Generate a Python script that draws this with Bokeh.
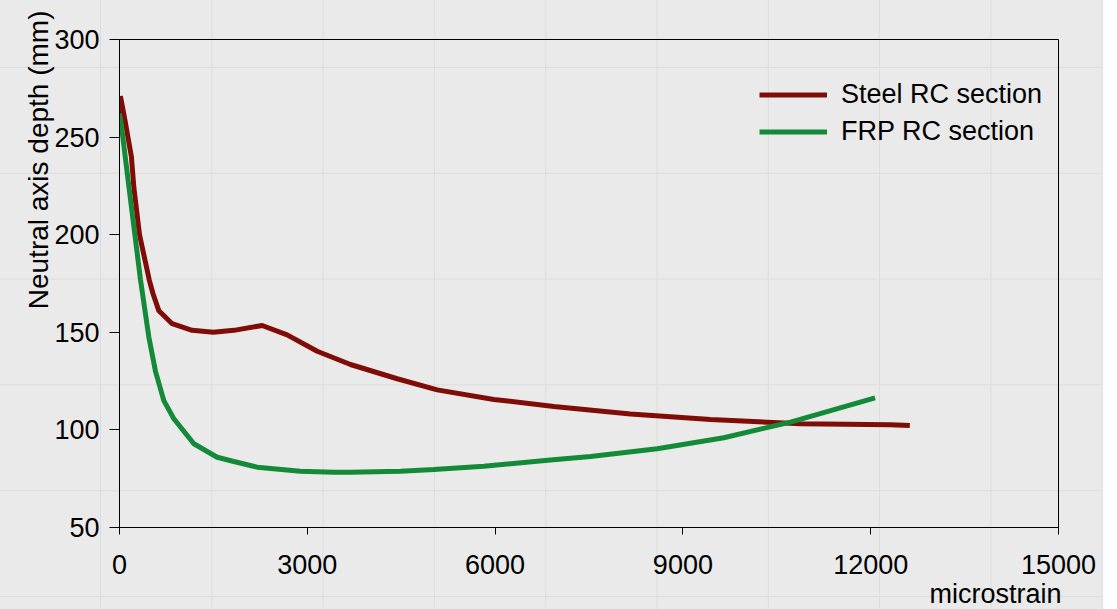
from bokeh.plotting import figure
from bokeh.models import Range1d, SingleIntervalTicker, Title, Legend, LegendItem
from bokeh.embed import file_html
from bokeh.resources import INLINE

# Data
steel_x = [0, 15, 85, 190, 230, 320, 474, 533, 629, 841, 1160, 1500, 1826, 2279,
           2678, 3158, 3690, 4436, 5075, 5980, 6938, 8163, 9441, 10879, 12316, 12625]
steel_y = [260, 271, 259, 240, 224, 200, 177, 170, 161, 154.4, 151, 150, 151, 153.5,
           148.7, 140.3, 133.5, 126.2, 120.5, 115.6, 112, 108.1, 105.3, 103.1, 102.6, 102.3]

frp_x = [0, 30, 160, 335, 469, 575, 708, 868, 1188, 1560, 1827, 2199, 2891, 3424,
         3690, 4489, 5021, 5820, 6885, 7524, 8589, 9654, 10719, 12070]
frp_y = [262, 256, 222, 177, 147.5, 130, 115, 105.7, 92.9, 86, 83.8, 80.9, 78.8, 78.3,
         78.3, 78.8, 79.7, 81.4, 84.6, 86.4, 90.3, 96, 104, 116.4]

series_labels = ["Steel RC section", "FRP RC section"]
x_label = "microstrain"
y_label = "Neutral axis depth (mm)"

FONT = "Liberation Sans"
FS = "27px"

p = figure(width=1103, height=609, output_backend="svg", toolbar_location=None,
           title=None,
           x_range=Range1d(0, 15000), y_range=Range1d(50, 300),
           min_border_left=119, min_border_right=45, min_border_top=39,
           min_border_bottom=82,
           border_fill_color=None, background_fill_color=None,
           outline_line_color="black", outline_line_width=1)

p.styles = {
    "background-color": "#eaeaea",
    "background-image": "linear-gradient(to right, #dcdcdc 0px, #dcdcdc 1px, transparent 1px), "
                        "linear-gradient(to bottom, #dcdcdc 0px, #dcdcdc 1px, transparent 1px)",
    "background-size": "111.3px 100%, 100% 105.8px",
    "background-position": "100px 0px, 0px 67px",
}

p.xgrid.visible = False
p.ygrid.visible = False

p.xaxis.ticker = SingleIntervalTicker(interval=3000)
p.yaxis.ticker = SingleIntervalTicker(interval=50)
for ax in (p.xaxis[0], p.yaxis[0]):
    ax.axis_line_color = "black"
    ax.axis_line_width = 1
    ax.major_tick_line_color = "black"
    ax.major_tick_in = 0
    ax.minor_tick_line_color = None
    ax.major_label_text_font = FONT
    ax.major_label_text_font_size = FS
    ax.major_label_text_color = "black"
p.xaxis.major_tick_out = 7
p.yaxis.major_tick_out = 10
p.xaxis.major_label_standoff = 20
p.yaxis.major_label_standoff = 10

r1 = p.line(steel_x, steel_y, line_color="#800c07", line_width=5)
r2 = p.line(frp_x, frp_y, line_color="#138a38", line_width=5)

legend = Legend(items=[LegendItem(label=series_labels[0], renderers=[r1]),
                       LegendItem(label=series_labels[1], renderers=[r2])],
                location=(640, 377.5), orientation="vertical",
                glyph_width=68, glyph_height=37, label_height=37,
                label_standoff=14, spacing=0, padding=0, margin=0,
                border_line_color=None, background_fill_alpha=0,
                label_text_font=FONT, label_text_font_size=FS,
                label_text_color="black")
p.add_layout(legend)

ylab = Title(text=y_label, align="right", offset=-29, standoff=-4,
             text_font=FONT, text_font_size="28px", text_font_style="normal",
             text_color="black")
p.add_layout(ylab, "left")

xlab = Title(text=x_label, align="right", offset=-3, standoff=0,
             text_font=FONT, text_font_size=FS, text_font_style="normal",
             text_color="black")
p.add_layout(xlab, "below")

open("out.html", "w").write(file_html(p, INLINE))
